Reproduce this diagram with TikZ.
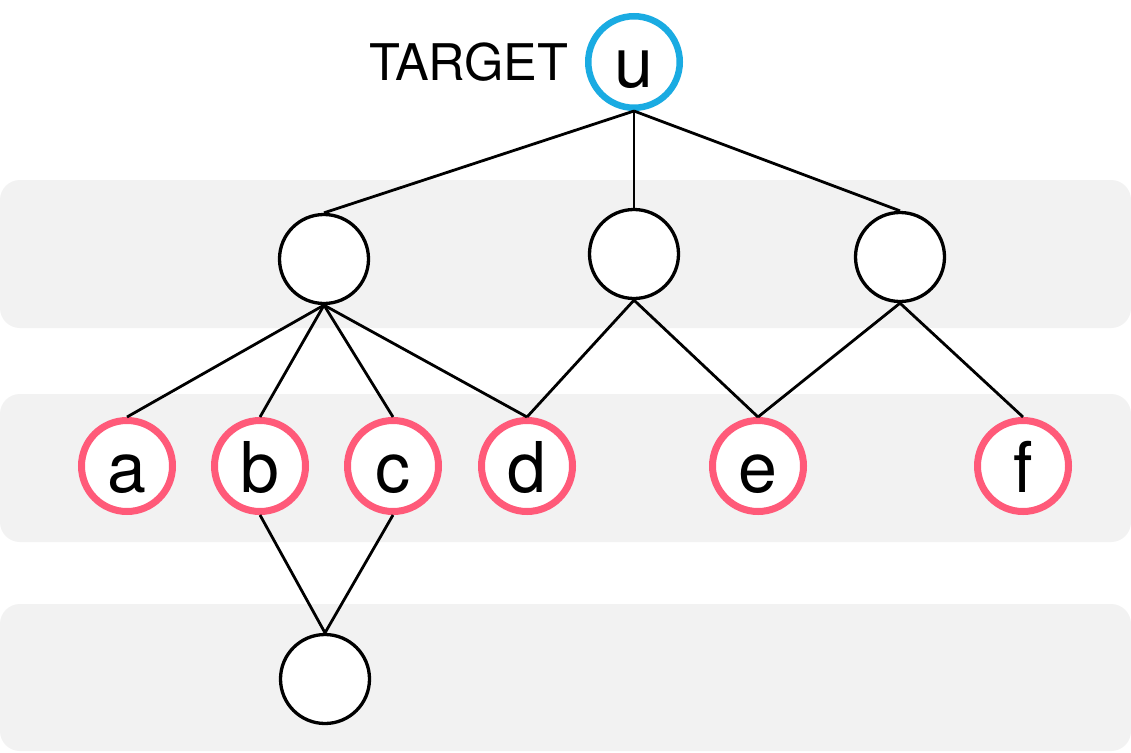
\documentclass[tikz,border=0pt]{standalone}
\usepackage{fontspec}
\setmainfont{TeX Gyre Heros}
\definecolor{bandgray}{HTML}{F2F2F2}
\definecolor{tblue}{HTML}{1AABE2}
\definecolor{tred}{HTML}{FF5A79}
\begin{document}
\begin{tikzpicture}[x=1pt,y=-1pt,
  band/.style={fill=bandgray,draw=none,rounded corners=20pt},
  plain/.style={circle,draw=black,line width=3.3pt,fill=white,minimum size=89pt,inner sep=0pt},
  leaf/.style={circle,draw=tred,line width=7pt,fill=white,minimum size=91pt,inner sep=0pt,
    font=\fontsize{70}{84}\selectfont,text height=52pt,text depth=0pt},
  target/.style={circle,draw=tblue,line width=6.5pt,fill=white,minimum size=91.5pt,inner sep=0pt,
    font=\fontsize{70}{84}\selectfont,text height=50pt,text depth=0pt},
  edge/.style={draw=black,line width=2.8pt}]
\useasboundingbox (0,0) rectangle (1131,752);
\fill[white] (0,0) rectangle (1131,752);
% bands
\path[band] (0,180) rectangle (1131,328);
\path[band] (0,394) rectangle (1131,542);
\path[band] (0,604) rectangle (1131,751);
% nodes
\node[target] (u) at (634,62) {u};
\node[anchor=base west,font=\fontsize{50.5}{60}\selectfont,inner sep=0pt] (lbl) at (369,80) {TARGET};
\node[plain] (p1) at (324,259) {};
\node[plain] (p2) at (634,254) {};
\node[plain] (p3) at (900,257) {};
\node[leaf] (a) at (127,466) {a};
\node[leaf] (b) at (260,466) {b};
\node[leaf] (c) at (393,466) {c};
\node[leaf] (d) at (527,466) {d};
\node[leaf] (e) at (758,466) {e};
\node[leaf] (f) at (1023,466) {f};
\node[plain] (q) at (325,679) {};
% edges
\draw[edge] (u.south) -- (p1.north);
\draw[edge] (u.south) -- (p2.north);
\draw[edge] (u.south) -- (p3.north);
\draw[edge] (p1.south) -- (a.north);
\draw[edge] (p1.south) -- (b.north);
\draw[edge] (p1.south) -- (c.north);
\draw[edge] (p1.south) -- (d.north);
\draw[edge] (p2.south) -- (d.north);
\draw[edge] (p2.south) -- (e.north);
\draw[edge] (p3.south) -- (e.north);
\draw[edge] (p3.south) -- (f.north);
\draw[edge] (b.south) -- (q.north);
\draw[edge] (c.south) -- (q.north);
\end{tikzpicture}
\end{document}
